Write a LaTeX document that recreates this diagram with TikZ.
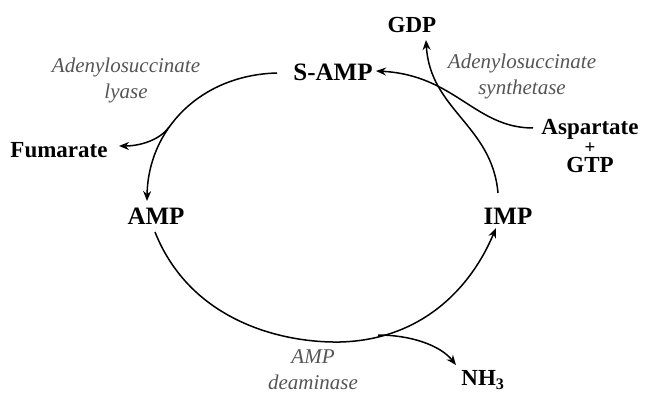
\documentclass[tikz,border=0pt]{standalone}
\usepackage{fontspec}
\setmainfont{Liberation Serif}
\usetikzlibrary{arrows.meta}
\definecolor{labgray}{RGB}{85,85,85}
\tikzset{
  met/.style={font=\fontsize{23}{25}\selectfont\bfseries, inner sep=0pt},
  bigmet/.style={font=\fontsize{25}{27}\selectfont\bfseries, inner sep=0pt},
  enz/.style={font=\fontsize{21}{26}\selectfont\itshape, text=labgray, align=center, inner sep=0pt},
  flow/.style={line width=1.5pt, -{Stealth[length=10pt,width=8pt]}},
  plain/.style={line width=1.5pt}
}
\begin{document}
\begin{tikzpicture}[x=1pt,y=-1pt]
\useasboundingbox (0,0) rectangle (645,395);
% metabolites
\node[bigmet] (samp) at (333,72) {S-AMP};
\node[bigmet] (amp) at (156,216) {AMP};
\node[bigmet] (imp) at (508,216) {IMP};
\node[met] (gdp) at (412,25) {GDP};
\node[met] (fum) at (59,150) {Fumarate};
\node[met, anchor=base] (asp) at (590,135) {Aspartate};
\node[met, font=\fontsize{19}{19}\selectfont\bfseries] (plus) at (590,148) {+};
\node[met, anchor=base] (gtp) at (590,173) {GTP};
\node[met] (nh3) at (483,380) {NH$_{\mathbf{3}}$};
% enzymes
\node[enz] (lyase) at (126,80) {Adenylosuccinate\\lyase};
\node[enz] (synth) at (522,76) {Adenylosuccinate\\synthetase};
\node[enz] (deam) at (313,370) {AMP\\deaminase};
% coordinates
\coordinate (lyaseS) at (277,73);
\coordinate (lyaseE) at (147,201);
\coordinate (fumB) at (169,127);
\coordinate (fumE) at (119,146);
\coordinate (ampS) at (155,232);
\coordinate (bottom) at (340,342);
\coordinate (impE) at (496,228);
\coordinate (nhB) at (378,335);
\coordinate (nhE) at (456,365);
\coordinate (aspS) at (533,128);
\coordinate (sampE) at (376,71);
\coordinate (impS) at (498,193);
\coordinate (gdpE) at (426,40);
% connectors
\draw[flow] (lyaseS) .. controls (200,75) and (148,130) .. (lyaseE);
\draw[flow] (fumB) .. controls (160,140) and (140,146) .. (fumE);
\draw[plain] (ampS) .. controls (190,320) and (280,343) .. (bottom);
\draw[flow] (bottom) .. controls (420,340) and (470,290) .. (impE);
\draw[flow] (nhB) .. controls (410,335) and (440,345) .. (nhE);
\draw[flow] (aspS) .. controls (475,128) and (455,75) .. (sampE);
\draw[flow] (impS) .. controls (492,125) and (430,110) .. (gdpE);
\end{tikzpicture}
\end{document}
